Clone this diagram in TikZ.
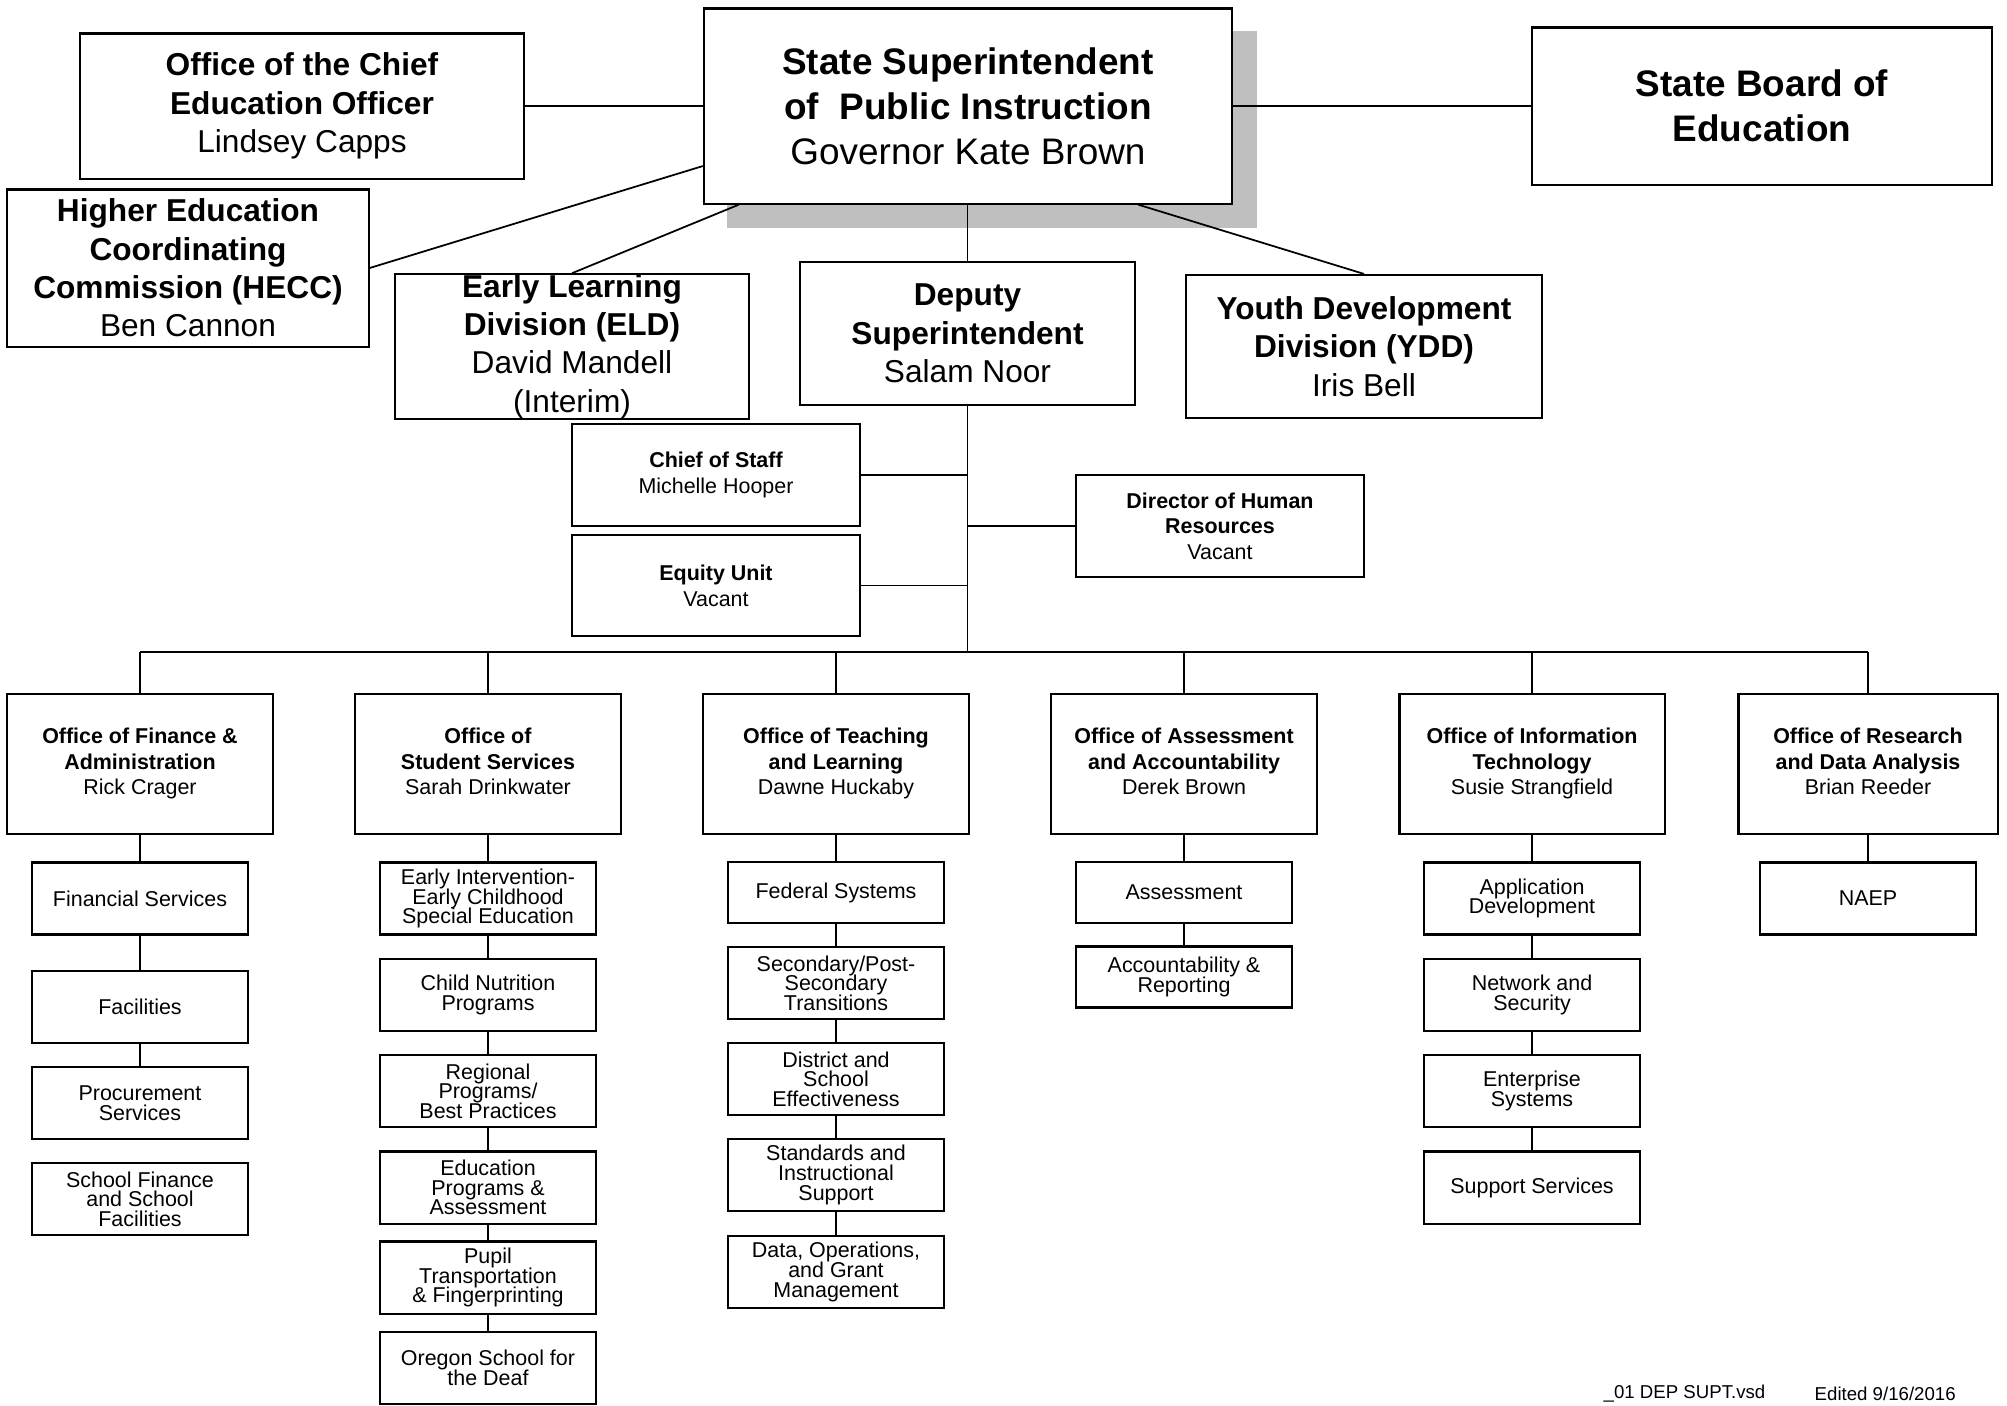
\documentclass[tikz,border=0pt]{standalone}
\usepackage{fontspec}
\setmainfont{Liberation Sans}
\usepackage{tikz}

\begin{document}
\begin{tikzpicture}[x=0.01cm, y=-0.01cm,
    box/.style={draw, line width=0.6pt, fill=white, align=center, inner sep=0pt},
    bigtext/.style={font=\fontsize{10.5}{12.8}\selectfont},
    toptext/.style={font=\fontsize{9}{10.9}\selectfont},
    midtext/.style={font=\fontsize{6.1}{7.3}\selectfont},
    subtext/.style={font={\fontsize{6.1}{5.6}\selectfont\lineskiplimit-\maxdimen}},
    foottext/.style={font=\fontsize{5.3}{6}\selectfont, inner sep=0pt, anchor=west},
    link/.style={line width=0.5pt}]
    \useasboundingbox (0,0) rectangle (2007,1405);
    % Top Level
    \fill[gray!50] (727,31) rectangle (1257,228);
    \node[box, bigtext, minimum width=5.28cm, minimum height=1.95cm] (Super) at (968,106)
        {\textbf{State Superintendent}\\\textbf{of\ \ Public Instruction}\\Governor Kate Brown};
    \node[box, bigtext, minimum width=4.6cm, minimum height=1.57cm] (Board) at (1762,106)
        {\textbf{State Board of}\\\textbf{Education}};
    \node[box, toptext, minimum width=4.44cm, minimum height=1.45cm] (Chief) at (302,106)
        {\textbf{Office of the Chief}\\\textbf{Education Officer}\\Lindsey Capps};
    \node[box, toptext, minimum width=3.61cm, minimum height=1.57cm] (HECC) at (188,268)
        {\textbf{Higher Education}\\\textbf{Coordinating}\\\textbf{Commission (HECC)}\\Ben Cannon};
    % Divisions
    \node[box, toptext, minimum width=3.54cm, minimum height=1.43cm] (ELD) at (572,346.5)
        {\textbf{Early Learning}\\\textbf{Division (ELD)}\\David Mandell\\(Interim)};
    \node[box, toptext, minimum width=3.35cm, minimum height=1.43cm] (Deputy) at (967.5,333.5)
        {\textbf{Deputy}\\\textbf{Superintendent}\\Salam Noor};
    \node[box, toptext, minimum width=3.55cm, minimum height=1.43cm] (YDD) at (1364,346.5)
        {\textbf{Youth Development}\\\textbf{Division (YDD)}\\Iris Bell};
    % Deputy staff
    \node[box, midtext, minimum width=2.88cm, minimum height=1.02cm] (Staff-1) at (716,475)
        {\textbf{Chief of Staff}\\Michelle Hooper};
    \node[box, midtext, minimum width=2.88cm, minimum height=1.01cm] (Staff-2) at (716,585.5)
        {\textbf{Equity Unit}\\Vacant};
    \node[box, midtext, minimum width=2.88cm, minimum height=1.02cm] (Staff-3) at (1220,526)
        {\textbf{Director of Human}\\\textbf{Resources}\\Vacant};
    \coordinate (Spine) at (967.5,652);
    % Offices
    \foreach \name/\cx/\w/\i in {{\textbf{Office of Finance \&}\\\textbf{Administration}\\Rick Crager}/140/2.65/1,
        {\textbf{Office of}\\\textbf{Student Services}\\Sarah Drinkwater}/488/2.65/2,
        {\textbf{Office of Teaching}\\\textbf{and Learning}\\Dawne Huckaby}/836/2.65/3,
        {\textbf{Office of Assessment}\\\textbf{and Accountability}\\Derek Brown}/1184/2.65/4,
        {\textbf{Office of Information}\\\textbf{Technology}\\Susie Strangfield}/1532/2.65/5,
        {\textbf{Office of Research}\\\textbf{and Data Analysis}\\Brian Reeder}/1868/2.59/6} {
        \node[box, midtext, minimum width=\w cm, minimum height=1.4cm] (Office-\i) at (\cx,764) {\strut\name\strut};
    }
    % Units
    \foreach \name/\y/\i in {Financial Services/898.5/1, Facilities/1007/2,
        {Procurement\\Services}/1103/3, {School Finance\\and School\\Facilities}/1199/4} {
        \node[box, subtext, minimum width=2.16cm, minimum height=0.72cm] (Fin-\i) at (140,\y) {\name};
    }
    \foreach \name/\y/\i in {{Early Intervention-\\Early Childhood\\Special Education}/898.5/1,
        {Child Nutrition\\Programs}/995/2, {Regional\\Programs/\\Best Practices}/1091/3,
        {Education\\Programs \&\\Assessment}/1187.5/4, {Pupil\\Transportation\\\& Fingerprinting}/1277.5/5,
        {Oregon School for\\the Deaf}/1368/6} {
        \node[box, subtext, minimum width=2.16cm, minimum height=0.72cm] (Stu-\i) at (488,\y) {\name};
    }
    \foreach \name/\y/\h/\i in {Federal Systems/892.5/0.61/1, {Secondary/Post-\\Secondary\\Transitions}/983/0.72/2,
        {District and\\School\\Effectiveness}/1079/0.72/3, {Standards and\\Instructional\\Support}/1175/0.72/4,
        {Data, Operations,\\and Grant\\Management}/1272/0.72/5} {
        \node[box, subtext, minimum width=2.16cm, minimum height=\h cm] (Teach-\i) at (836,\y) {\name};
    }
    \foreach \name/\y/\i in {Assessment/892.5/1, {Accountability \&\\Reporting}/977/2} {
        \node[box, subtext, minimum width=2.16cm, minimum height=0.61cm] (Assess-\i) at (1184,\y) {\name};
    }
    \foreach \name/\y/\i in {{Application\\Development}/898.5/1, {Network and\\Security}/995/2,
        {Enterprise\\Systems}/1091/3, Support Services/1187.5/4} {
        \node[box, subtext, minimum width=2.16cm, minimum height=0.72cm] (Tech-\i) at (1532,\y) {\name};
    }
    \node[box, subtext, minimum width=2.16cm, minimum height=0.72cm] (Research-1) at (1868,898.5) {NAEP};
    % Footer
    \node[foottext] (File) at (1603,1394) {\_01 DEP SUPT.vsd};
    \node[foottext] (Edited) at (1814,1394) {Edited 9/16/2016};
    % Lines
    \draw[link] (Chief.east) -- (Chief.east -| Super.west);
    \draw[link] (Super.east) -- (Super.east -| Board.west);
    \draw[link] (HECC.east) -- ([yshift=-0.6cm]Super.west);
    \draw[link] (ELD.north) -- ([xshift=-2.29cm]Super.south);
    \draw[link] (YDD.north) -- ([xshift=1.7cm]Super.south);
    \draw[link] (Deputy.north) -- (Deputy.north |- Super.south);
    \draw[link] (Deputy.south) -- (Spine);
    \foreach \i in {1,2} {
        \draw[link] (Staff-\i.east) -- (Staff-\i.east -| Spine);
    }
    \draw[link] (Staff-3.west) -- (Staff-3.west -| Spine);
    \draw[link] (Office-1.north |- Spine) -- (Office-6.north |- Spine);
    \foreach \i in {1,...,6} {
        \draw[link] (Office-\i.north) -- (Office-\i.north |- Spine);
    }
    \draw[link] (Office-1) -- (Fin-1);
    \foreach \i/\j in {1/2,2/3} {
        \draw[link] (Fin-\i) -- (Fin-\j);
    }
    \draw[link] (Office-2) -- (Stu-1);
    \foreach \i/\j in {1/2,2/3,3/4,4/5,5/6} {
        \draw[link] (Stu-\i) -- (Stu-\j);
    }
    \draw[link] (Office-3) -- (Teach-1);
    \foreach \i/\j in {1/2,2/3,3/4,4/5} {
        \draw[link] (Teach-\i) -- (Teach-\j);
    }
    \draw[link] (Office-4) -- (Assess-1);
    \draw[link] (Assess-1) -- (Assess-2);
    \draw[link] (Office-5) -- (Tech-1);
    \foreach \i/\j in {1/2,2/3,3/4} {
        \draw[link] (Tech-\i) -- (Tech-\j);
    }
    \draw[link] (Office-6) -- (Research-1);
\end{tikzpicture}
\end{document}
